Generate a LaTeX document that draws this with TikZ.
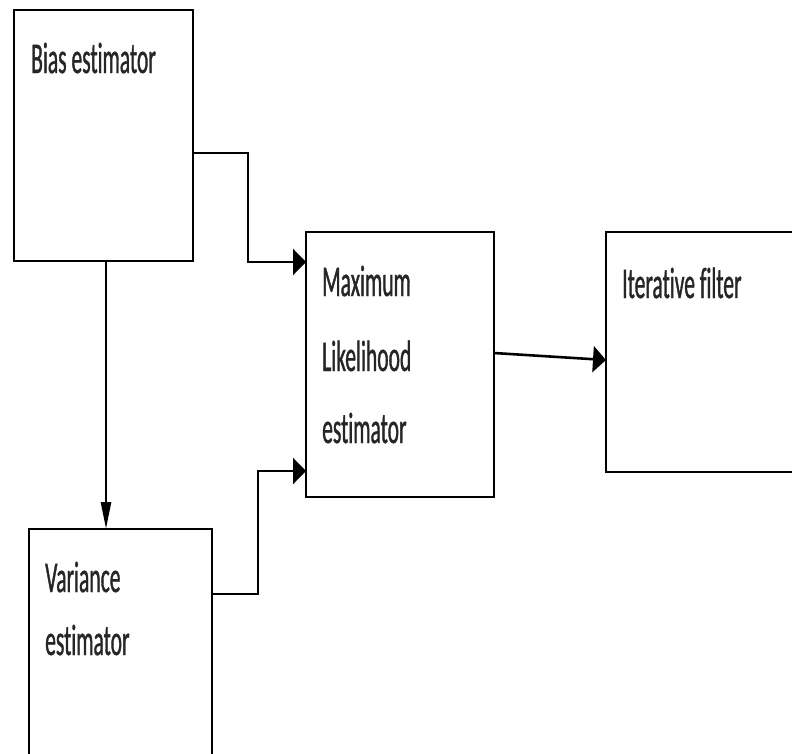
\documentclass[tikz,border=0pt]{standalone}
\usepackage{fontspec}
\setmainfont{Carlito}[FakeStretch=0.49, FakeBold=0.8, Ligatures=NoCommon]
\usetikzlibrary{arrows.meta,calc}
\definecolor{txt}{HTML}{262626}
\tikzset{
  box/.style={draw=black, line width=2.8pt, rectangle, anchor=north west, inner sep=0pt, outer sep=0pt},
  conn/.style={draw=black, line width=2.6pt},
  harrow/.style={-{Triangle[length=13pt,width=26pt]}},
  varrow/.style={-{Triangle[length=27pt,width=10pt]}},
  lbl/.style={anchor=base west, inner sep=0pt, text=txt, font=\fontsize{44}{50}\selectfont}
}
\begin{document}
\begin{tikzpicture}[x=1pt,y=1pt]
\useasboundingbox (0,0) rectangle (792,-753);
\fill[white] (0,0) rectangle (792,-753);
% boxes
\node[box, minimum width=179pt, minimum height=251pt] (bias) at (14,-10) {};
\node[box, minimum width=183pt, minimum height=240pt] (var) at (29,-529) {};
\node[box, minimum width=188pt, minimum height=265pt] (ml) at (306,-232) {};
\node[box, minimum width=200pt, minimum height=240pt] (iter) at (606,-232) {};
% texts
\node[lbl] (tbias) at (31,-73) {Bias estimator};
\node[lbl] (tml1) at (322,-296) {Maximum};
\node[lbl] (tml2) at (322,-371) {Likelihood};
\node[lbl] (tml3) at (322,-443) {estimator};
\node[lbl] (tvar1) at (45,-592) {Variance};
\node[lbl] (tvar2) at (45,-655) {estimator};
\node[lbl] (titer) at (622,-298) {Iterative filter};
% connectors
\draw[conn, harrow] ($(bias.east)+(0,-17.5)$) -- (248,-153) -- (248,-262) -- ($(ml.west)+(0,102.5)$);
\draw[conn, varrow] ($(bias.south)+(2.5,0)$) -- ($(var.north)+(-14.5,0)$);
\draw[conn, harrow] ($(var.east)+(0,55)$) -- (258,-594) -- (258,-471) -- ($(ml.west)+(0,-106.5)$);
\draw[conn, harrow] ($(ml.east)+(0,11.5)$) -- ($(iter.west)+(0,-8)$);
\end{tikzpicture}
\end{document}
